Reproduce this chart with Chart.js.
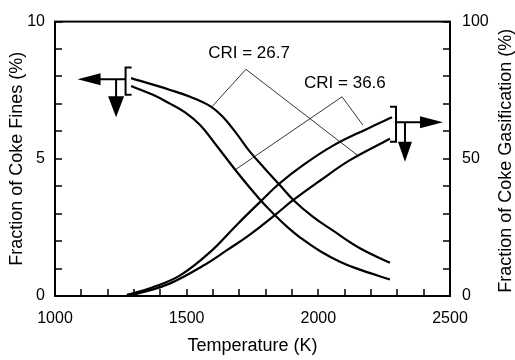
<!DOCTYPE html>
<html>
<head>
<meta charset="utf-8">
<script src="https://cdn.jsdelivr.net/npm/chart.js@4/dist/chart.umd.min.js"></script>
<style>
  html, body { margin: 0; padding: 0; background: #fff; }
  #wrap { width: 515px; height: 360px; }
</style>
</head>
<body>
<div id="wrap"><canvas id="chartCoke" width="515" height="360"></canvas></div>
<script>
// --- valores ---
// finos de coque (eixo esquerdo, %)
const finesTempHigh = [1289, 1437, 1513, 1589, 1638, 1691, 1740, 1797, 1851, 1904, 1980, 2056, 2158, 2272];
const finesHigh     = [7.94, 7.51, 7.26, 6.92, 6.52, 5.90, 5.26, 4.64, 4.07, 3.51, 2.88, 2.38, 1.74, 1.21];
const finesTempLow  = [1289, 1372, 1437, 1494, 1551, 1608, 1691, 1778, 1835, 1885, 1930, 2006, 2082, 2158, 2272];
const finesLow      = [7.65, 7.33, 7.01, 6.69, 6.23, 5.55, 4.52, 3.52, 2.95, 2.49, 2.14, 1.64, 1.25, 0.96, 0.60];

// gaseificação do coque (eixo direito, %)
const gasTempHigh = [1273, 1372, 1475, 1589, 1691, 1778, 1851, 1942, 2056, 2185, 2280];
const gasHigh     = [0.4, 3.2, 7.5, 16.0, 26.0, 34.2, 40.9, 47.7, 54.8, 60.9, 65.1];
const gasTempLow  = [1273, 1323, 1437, 1562, 1653, 1740, 1835, 1904, 2006, 2120, 2272];
const gasLow      = [0.0, 1.1, 4.6, 11.0, 16.7, 22.4, 29.5, 34.9, 42.0, 49.5, 57.3];

// rótulos dos eixos
const xLabelTicks  = [1000, 1500, 2000, 2500];
const yLabelTicks  = [0, 5, 10];
const y2LabelTicks = [0, 50, 100];

// anotações CRI (em unidades de dados: K, % finos)
const criTexts   = ['CRI = 26.7', 'CRI = 36.6'];
const criTextPos = [[1737, 8.83], [2101, 7.76]];
const criApex    = [[1725, 8.26], [2090, 7.26]];
const criEnds    = [[[1596, 6.90], [2150, 5.12]], [[1683, 4.59], [2169, 6.23]]];

const FONT = '"Liberation Sans", Arial, sans-serif';
const toXY = (xs, ys) => xs.map((t, i) => ({ x: t, y: ys[i] }));

const serie = (data, axis) => ({
    data, yAxisID: axis,
    borderColor: '#000', borderWidth: 2.2,
    pointRadius: 0, fill: false,
    tension: 0.4
});

const decor = {
    id: 'decor',
    afterDraw(chart) {
        const { ctx, chartArea: a, scales: { x, y, y2 } } = chart;
        const P = (t, v) => [x.getPixelForValue(t), y.getPixelForValue(v)];
        ctx.save();
        ctx.strokeStyle = '#000';
        ctx.fillStyle = '#000';

        // moldura
        ctx.lineWidth = 2;
        ctx.strokeRect(a.left, a.top, a.right - a.left, a.bottom - a.top);

        // marcas internas
        ctx.lineWidth = 1.5;
        ctx.beginPath();
        x.ticks.forEach(t => {
            const p = Math.round(x.getPixelForValue(t.value));
            ctx.moveTo(p, a.bottom); ctx.lineTo(p, a.bottom - 7);
        });
        y.ticks.forEach(t => {
            const p = Math.round(y.getPixelForValue(t.value));
            ctx.moveTo(a.left, p); ctx.lineTo(a.left + 7, p);
        });
        y2.ticks.forEach(t => {
            const p = Math.round(y2.getPixelForValue(t.value));
            ctx.moveTo(a.right, p); ctx.lineTo(a.right - 7, p);
        });
        ctx.stroke();

        // linhas e textos CRI
        ctx.lineWidth = 0.8;
        criApex.forEach((ap, i) => {
            const [ax, ay] = P(ap[0], ap[1]);
            ctx.beginPath();
            criEnds[i].forEach(e => {
                const [ex, ey] = P(e[0], e[1]);
                ctx.moveTo(ex, ey); ctx.lineTo(ax, ay);
            });
            ctx.stroke();
        });
        ctx.font = '17px ' + FONT;
        ctx.textAlign = 'center';
        ctx.textBaseline = 'middle';
        criTexts.forEach((txt, i) => {
            const [tx, ty] = P(criTextPos[i][0], criTextPos[i][1]);
            ctx.fillText(txt, tx, ty);
        });

        // colchete + setas (esquerda -> eixo de finos)
        ctx.lineWidth = 2;
        const [lbx, lTop] = P(1268, 8.33);
        const lBot = y.getPixelForValue(7.33);
        const lMid = y.getPixelForValue(7.90);
        const lStem = x.getPixelForValue(1232);
        ctx.beginPath();
        ctx.moveTo(lbx + 6, lTop); ctx.lineTo(lbx, lTop); ctx.lineTo(lbx, lBot); ctx.lineTo(lbx + 6, lBot);
        ctx.moveTo(lbx, lMid); ctx.lineTo(lbx - 26, lMid);
        ctx.moveTo(lStem, lMid); ctx.lineTo(lStem, lMid + 18);
        ctx.stroke();
        ctx.beginPath();
        ctx.moveTo(lbx - 25, lMid - 6); ctx.lineTo(lbx - 48, lMid); ctx.lineTo(lbx - 25, lMid + 6); ctx.closePath();
        ctx.moveTo(lStem - 8, lMid + 17); ctx.lineTo(lStem + 8, lMid + 17); ctx.lineTo(lStem, lMid + 38); ctx.closePath();
        ctx.fill();

        // colchete + setas (direita -> eixo de gaseificação)
        const [rbx, rTop] = P(2295, 6.90);
        const rBot = y.getPixelForValue(5.62);
        const rMid = y.getPixelForValue(6.33);
        const rStem = x.getPixelForValue(2329);
        ctx.beginPath();
        ctx.moveTo(rbx - 6, rTop); ctx.lineTo(rbx, rTop); ctx.lineTo(rbx, rBot); ctx.lineTo(rbx - 6, rBot);
        ctx.moveTo(rbx, rMid); ctx.lineTo(rbx + 25, rMid);
        ctx.moveTo(rStem, rMid); ctx.lineTo(rStem, rBot + 1);
        ctx.stroke();
        ctx.beginPath();
        ctx.moveTo(rbx + 24, rMid - 6); ctx.lineTo(rbx + 47, rMid); ctx.lineTo(rbx + 24, rMid + 6); ctx.closePath();
        ctx.moveTo(rStem - 7, rBot); ctx.lineTo(rStem + 7, rBot); ctx.lineTo(rStem, rBot + 20); ctx.closePath();
        ctx.fill();

        // título do eixo direito (lido de baixo para cima)
        ctx.font = '18px ' + FONT;
        ctx.translate(506, (a.top + a.bottom) / 2 + 2);
        ctx.rotate(-Math.PI / 2);
        ctx.fillText('Fraction of Coke Gasification (%)', 0, 0);
        ctx.restore();
    }
};

new Chart(document.getElementById('chartCoke').getContext('2d'), {
    type: 'line',
    data: {
        datasets: [
            serie(toXY(finesTempHigh, finesHigh), 'y'),
            serie(toXY(finesTempLow, finesLow), 'y'),
            serie(toXY(gasTempHigh, gasHigh), 'y2'),
            serie(toXY(gasTempLow, gasLow), 'y2')
        ]
    },
    options: {
        responsive: false,
        animation: false,
        devicePixelRatio: 1,
        layout: { padding: { top: 15, left: 0, right: 0, bottom: 0 } },
        plugins: { legend: { display: false }, tooltip: { enabled: false } },
        scales: {
            x: {
                type: 'linear', min: 1000, max: 2500,
                ticks: {
                    stepSize: 100, autoSkip: false, maxRotation: 0, padding: 13,
                    color: '#000', font: { size: 16, family: FONT },
                    callback: v => xLabelTicks.includes(v) ? String(v) : ''
                },
                grid: { display: false, drawTicks: false },
                border: { display: false },
                title: {
                    display: true, text: 'Temperature (K)', color: '#000',
                    font: { size: 18, family: FONT }, padding: { top: 0, bottom: 3 }
                },
                afterFit: s => { s.height = 64; }
            },
            y: {
                position: 'left', min: 0, max: 10,
                ticks: {
                    stepSize: 1, padding: 10, color: '#000', font: { size: 16, family: FONT },
                    callback: v => yLabelTicks.includes(v) ? String(v) : ''
                },
                grid: { display: false, drawTicks: false },
                border: { display: false },
                title: {
                    display: true, text: 'Fraction of Coke Fines (%)', color: '#000',
                    font: { size: 18, family: FONT }, padding: { top: 6, bottom: 0 }
                },
                afterFit: s => { s.width = 55; }
            },
            y2: {
                position: 'right', min: 0, max: 100,
                ticks: {
                    stepSize: 10, padding: 12, color: '#000', font: { size: 16, family: FONT },
                    callback: v => y2LabelTicks.includes(v) ? String(v) : ''
                },
                grid: { display: false, drawTicks: false },
                border: { display: false },
                afterFit: s => { s.width = 65; }
            }
        }
    },
    plugins: [decor]
});
</script>
</body>
</html>
